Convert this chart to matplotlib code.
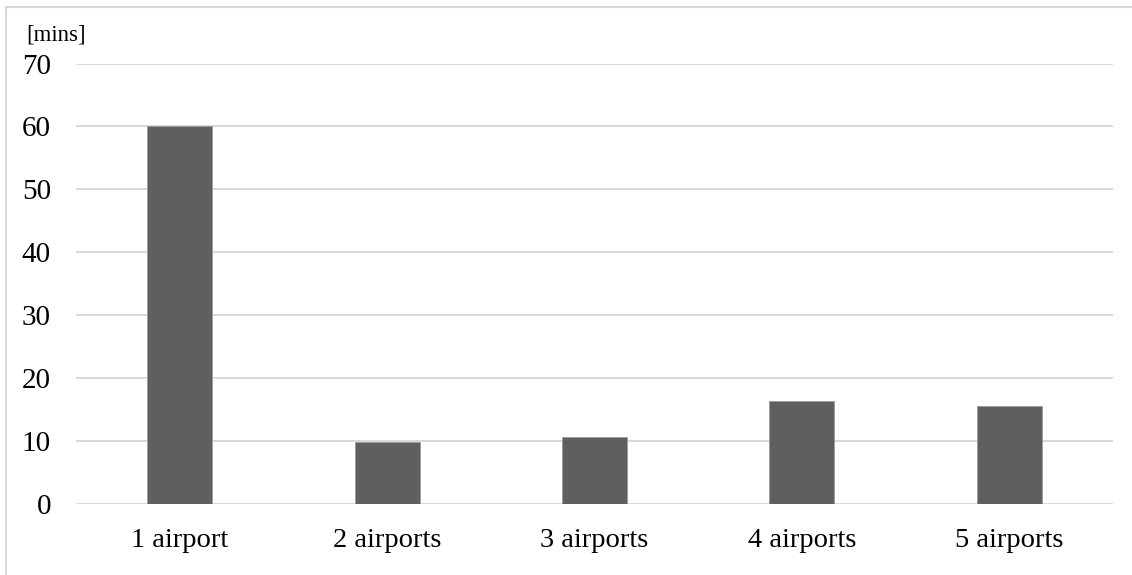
import matplotlib
matplotlib.use("Agg")
import matplotlib.pyplot as plt
from matplotlib.lines import Line2D

categories = ["1 airport", "2 airports", "3 airports", "4 airports", "5 airports"]
values = [60.0, 9.8, 10.6, 16.3, 15.5]
y_ticks = [0, 10, 20, 30, 40, 50, 60, 70]
unit_label = "[mins]"

plt.rcParams["font.family"] = ["Liberation Serif", "DejaVu Serif"]

W, H = 1132, 575
fig = plt.figure(figsize=(W / 100, H / 100), dpi=100)
ax = fig.add_axes([76 / W, 1 - 504 / H, (1113 - 76) / W, (504 - 63.5) / H])

x = range(len(categories))
ax.bar(x, values, width=0.314, color="#5f5f5f", edgecolor="#9a9a9a",
       linewidth=0.6, zorder=3)

ax.set_xlim(-0.5, len(categories) - 0.5)
ax.set_ylim(0, 70)
ax.set_yticks(y_ticks)
ax.set_xticks(list(x))
ax.set_xticklabels(categories)
ax.yaxis.grid(True, color="#d9d9d9", linewidth=1.4, zorder=0)
ax.tick_params(axis="y", length=0, labelsize=21, pad=18, colors="#000000")
ax.tick_params(axis="x", length=0, labelsize=20.5, pad=17, colors="#000000")
for s in ax.spines.values():
    s.set_visible(False)

fig.text(26 / W, 1 - 35 / H, unit_label, fontsize=16.5, va="center", ha="left")

# chart-area frame
fig.add_artist(Line2D([6 / W, 1.0], [1 - 7 / H, 1 - 7 / H], color="#d9d9d9",
                      linewidth=1.5, transform=fig.transFigure))
fig.add_artist(Line2D([6 / W, 6 / W], [1 - 7 / H, 0.0], color="#d9d9d9",
                      linewidth=1.5, transform=fig.transFigure))

fig.savefig("out.png", dpi=100)
